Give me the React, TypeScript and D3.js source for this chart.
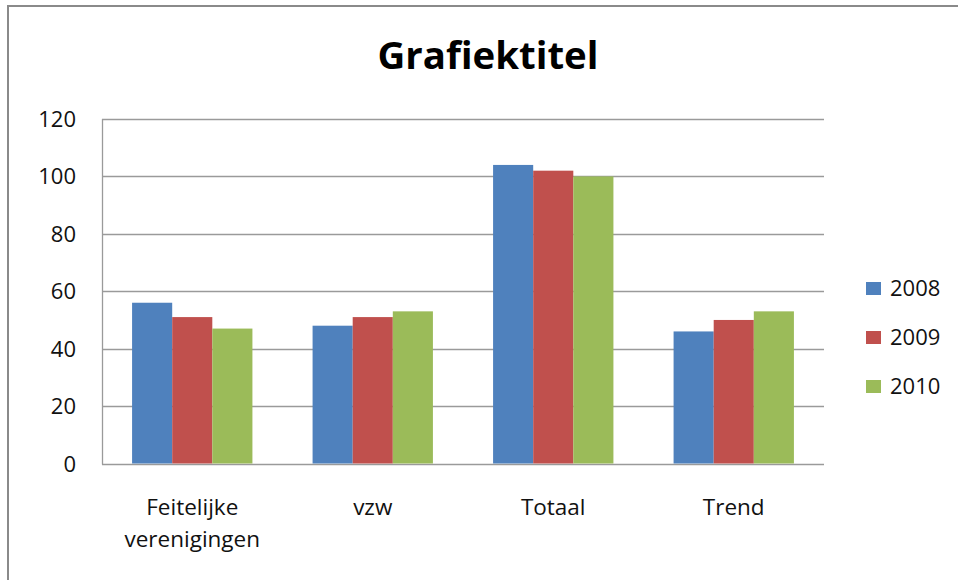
import React from "react";
import * as d3 from "d3";

const categories = ["Feitelijke verenigingen", "vzw", "Totaal", "Trend"];
const categoryLines = [["Feitelijke", "verenigingen"], ["vzw"], ["Totaal"], ["Trend"]];
const seriesNames = ["2008", "2009", "2010"];
const values2008 = [56, 48, 104, 46];
const values2009 = [51, 51, 102, 50];
const values2010 = [47, 53, 100, 53];
const yTicks = [0, 20, 40, 60, 80, 100, 120];
const colors = ["#4F81BD", "#C0504D", "#9BBB59"];

const W = 958;
const H = 580;
const plot = { left: 102, right: 824, top: 119, bottom: 463.5 };
const FONT = "'Open Sans', 'Noto Sans', sans-serif";

export default function App() {
  const series = [values2008, values2009, values2010];
  const y = d3.scaleLinear().domain([0, 120]).range([plot.bottom, plot.top]);
  const x0 = d3
    .scaleBand<string>()
    .domain(categories)
    .range([plot.left, plot.right])
    .paddingInner(0)
    .paddingOuter(0);
  const bw = x0.bandwidth();
  const barW = bw / 4.5;
  const x1 = d3
    .scaleBand<string>()
    .domain(seriesNames)
    .range([barW * 0.75, barW * 3.75]);

  return (
    <div style={{ position: "absolute", left: 0, top: 0 }}>
      <svg width={W} height={H} style={{ display: "block", background: "#fff" }}>
        <rect x={0} y={0} width={W} height={H} fill="#fff" />
        {/* frame */}
        <rect x={8} y={6} width={W + 20} height={H + 20} fill="none" stroke="#8a8a8a" strokeWidth={2} />
        {/* title */}
        <text
          x={488}
          y={69}
          textAnchor="middle"
          fontFamily={FONT}
          fontWeight="bold"
          fontSize={37}
          fill="#000"
          textLength={221}
          lengthAdjust="spacingAndGlyphs"
        >
          Grafiektitel
        </text>
        {/* gridlines */}
        {yTicks.map((t) => (
          <line
            key={"g" + t}
            x1={plot.left}
            x2={plot.right}
            y1={Math.round(y(t)) + 0.5}
            y2={Math.round(y(t)) + 0.5}
            stroke="#9a9a9a"
            strokeWidth={1.3}
          />
        ))}
        {/* y axis line */}
        <line x1={plot.left + 0.5} x2={plot.left + 0.5} y1={plot.top} y2={plot.bottom + 1} stroke="#9a9a9a" strokeWidth={1.3} />
        {/* y tick labels */}
        {yTicks.map((t) => (
          <text key={"t" + t} x={76} y={y(t) + 8} textAnchor="end" fontFamily={FONT} fontSize={22} fill="#111">
            {t}
          </text>
        ))}
        {/* bars */}
        {categories.map((c, ci) => (
          <g key={c} transform={`translate(${x0(c)},0)`}>
            {series.map((vals, si) => (
              <rect
                key={si}
                x={x1(seriesNames[si])}
                y={y(vals[ci])}
                width={x1.bandwidth()}
                height={plot.bottom - y(vals[ci])}
                fill={colors[si]}
              />
            ))}
          </g>
        ))}
        {/* category labels */}
        {categories.map((c, ci) => (
          <text key={"c" + c} textAnchor="middle" fontFamily={FONT} fontSize={22.5} fill="#111">
            {categoryLines[ci].map((ln, li) => (
              <tspan key={li} x={x0(c)! + bw / 2} y={515 + li * 32}>
                {ln}
              </tspan>
            ))}
          </text>
        ))}
        {/* legend */}
        {seriesNames.map((s, i) => (
          <g key={"l" + s} transform={`translate(866, ${282 + i * 49})`}>
            <rect x={0} y={0} width={15} height={13} fill={colors[i]} />
            <text x={24} y={14} fontFamily={FONT} fontSize={22} fill="#111">
              {s}
            </text>
          </g>
        ))}
      </svg>
    </div>
  );
}
